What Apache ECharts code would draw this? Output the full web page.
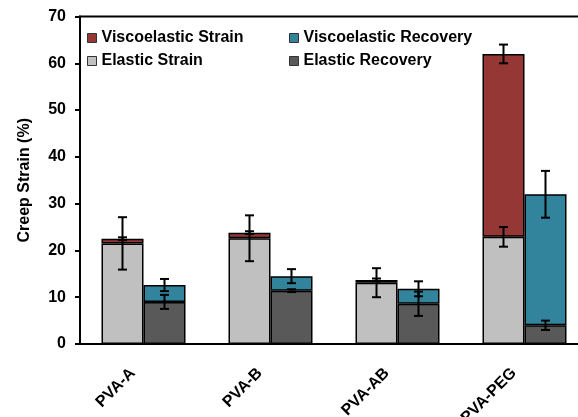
<!DOCTYPE html>
<html>
<head>
<meta charset="utf-8">
<style>html,body{margin:0;padding:0;background:#fff;}#c{width:578px;height:417px;}</style>
<script src="https://cdn.jsdelivr.net/npm/echarts@6/dist/echarts.min.js"></script>
</head>
<body>
<div id="c"></div>
<script>
const categories = ['PVA-A', 'PVA-B', 'PVA-AB', 'PVA-PEG'];
const elasticStrain = [21.5, 22.6, 13.1, 22.9];
const viscoStrain = [1.0, 1.2, 0.6, 39.1];
const elasticRecovery = [9.0, 11.4, 8.6, 4.0];
const viscoRecovery = [3.6, 3.1, 3.2, 28.0];
const elasticStrainErr = [5.6, 4.9, 3.1, 2.1];
const viscoStrainErr = [0.3, 0.3, 0.3, 2.0];
const elasticRecoveryErr = [1.5, 0.3, 2.6, 1.0];
const viscoRecoveryErr = [1.3, 1.5, 1.6, 5.0];
const yTicks = { min: 0, max: 70, interval: 10 };

const FONT = 'Liberation Sans, Arial, sans-serif';
const BAR_W = 42;

function errData(base, add, err) {
  return categories.map((c, i) => [i, base[i] + (add ? add[i] : 0), err[i]]);
}
function errSeries(data, side) {
  return {
    type: 'custom',
    z: 10,
    silent: true,
    data: data,
    encode: { x: 0, y: 1 },
    renderItem: function (params, api) {
      const idx = api.value(0), v = api.value(1), e = api.value(2);
      const p = api.coord([idx, v]);
      const x = p[0] + side * BAR_W / 2;
      const top = api.coord([idx, v + e])[1];
      const bot = api.coord([idx, v - e])[1];
      const cap = 4.5;
      const st = { stroke: '#000', lineWidth: 2 };
      return {
        type: 'group',
        children: [
          { type: 'line', shape: { x1: x, y1: top, x2: x, y2: bot }, style: st },
          { type: 'line', shape: { x1: x - cap, y1: top, x2: x + cap, y2: top }, style: st },
          { type: 'line', shape: { x1: x - cap, y1: bot, x2: x + cap, y2: bot }, style: st }
        ]
      };
    }
  };
}

const barBase = {
  type: 'bar', barWidth: BAR_W, barGap: '0%'
};
const legendText = { fontFamily: FONT, fontWeight: 'bold', fontSize: 16, color: '#000', lineHeight: 16 };
const chart = echarts.init(document.getElementById('c'), null, { renderer: 'canvas' });
chart.setOption({
  animation: false,
  backgroundColor: '#fff',
  textStyle: { fontFamily: FONT },
  grid: { left: 80, top: 16.5, right: -10, bottom: 73, show: true, borderColor: '#000', borderWidth: 2,
    containLabel: false, outerBoundsMode: 'none' },
  legend: [
    {
      orient: 'vertical', left: 87, top: 30, padding: 0, itemGap: 7, itemWidth: 9, itemHeight: 9, icon: 'rect',
      data: ['Viscoelastic Strain', 'Elastic Strain'],
      textStyle: legendText,
      itemStyle: { borderColor: '#333', borderWidth: 1 }
    },
    {
      orient: 'vertical', left: 289, top: 30, padding: 0, itemGap: 7, itemWidth: 9, itemHeight: 9, icon: 'rect',
      data: ['Viscoelastic Recovery', 'Elastic Recovery'],
      textStyle: legendText,
      itemStyle: { borderColor: '#333', borderWidth: 1 }
    }
  ],
  xAxis: {
    type: 'category', data: categories,
    axisLine: { show: true, lineStyle: { color: '#000', width: 2 } },
    axisTick: { show: false },
    axisLabel: { rotate: 45, margin: 16, padding: [0, 15, 0, 0], fontFamily: FONT, fontWeight: 'bold', fontSize: 16, color: '#000', interval: 0 }
  },
  yAxis: {
    type: 'value', min: yTicks.min, max: yTicks.max, interval: yTicks.interval,
    name: 'Creep Strain (%)', nameLocation: 'middle', nameGap: 47,
    nameTextStyle: { fontFamily: FONT, fontWeight: 'bold', fontSize: 16, color: '#000' },
    axisLine: { show: true, lineStyle: { color: '#000', width: 2 } },
    axisTick: { show: true, inside: false, length: 5, lineStyle: { color: '#000', width: 2 } },
    axisLabel: { margin: 14, fontFamily: FONT, fontWeight: 'bold', fontSize: 16, color: '#000' },
    splitLine: { show: false }
  },
  series: [
    Object.assign({}, barBase, { name: 'Elastic Strain', stack: 'strain', data: elasticStrain,
      itemStyle: { color: '#C0C0C0', borderColor: '#000', borderWidth: 1.5 } }),
    Object.assign({}, barBase, { name: 'Viscoelastic Strain', stack: 'strain', data: viscoStrain,
      itemStyle: { color: '#953735', borderColor: '#000', borderWidth: 1.5 } }),
    Object.assign({}, barBase, { name: 'Elastic Recovery', stack: 'recovery', data: elasticRecovery,
      itemStyle: { color: '#595959', borderColor: '#000', borderWidth: 1.5 } }),
    Object.assign({}, barBase, { name: 'Viscoelastic Recovery', stack: 'recovery', data: viscoRecovery,
      itemStyle: { color: '#31849B', borderColor: '#000', borderWidth: 1.5 } }),
    errSeries(errData(elasticStrain, null, elasticStrainErr), -1),
    errSeries(errData(elasticStrain, viscoStrain, viscoStrainErr), -1),
    errSeries(errData(elasticRecovery, null, elasticRecoveryErr), 1),
    errSeries(errData(elasticRecovery, viscoRecovery, viscoRecoveryErr), 1)
  ]
});
</script>
</body>
</html>
